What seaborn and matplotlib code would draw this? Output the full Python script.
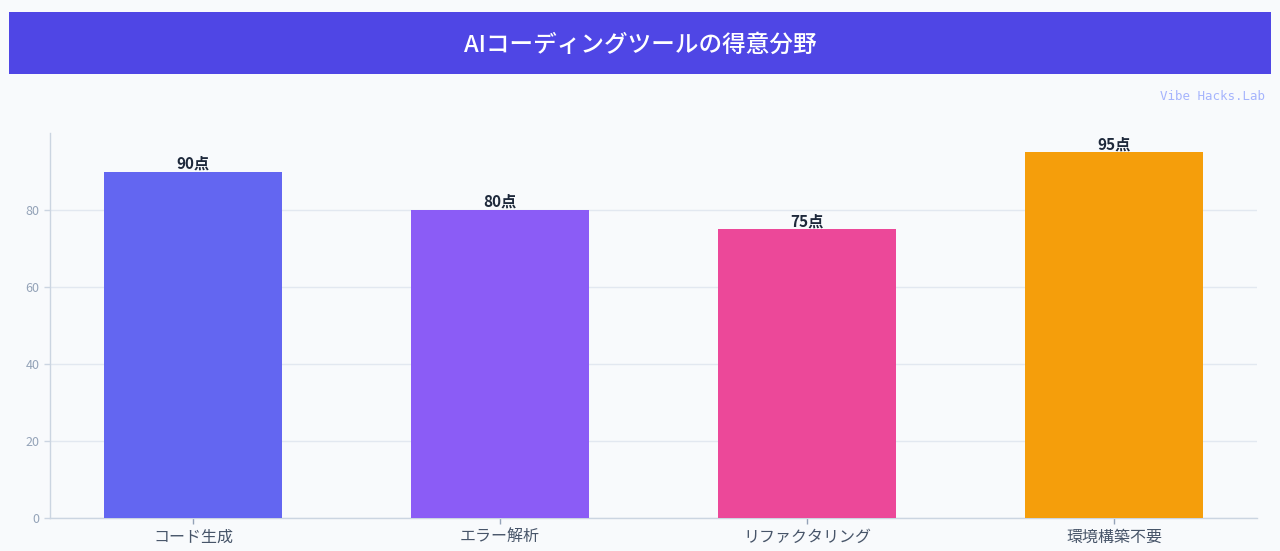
"""
AIコーディングツールの得意分野 - bar chart
"""

import matplotlib
matplotlib.use('Agg')
import matplotlib.pyplot as plt
import matplotlib.patches as patches
import pandas as pd
import seaborn as sns

# 🔧 Data
categories = ['コード生成', 'エラー解析', 'リファクタリング', '環境構築不要']
scores = [90, 80, 75, 95]
bar_colors = ['#6366f1', '#8b5cf6', '#ec4899', '#f59e0b']
y_ticks = [0, 20, 40, 60, 80]

TITLE = 'AIコーディングツールの得意分野'
WATERMARK = 'Vibe Hacks.Lab'
BG = '#f8fafc'

sns.set_theme(style='white')
plt.rcParams['font.family'] = ['Noto Sans CJK JP', 'DejaVu Sans']

df = pd.DataFrame({'category': categories, 'score': scores})

fig = plt.figure(figsize=(12.8, 5.51), dpi=100, facecolor=BG)
ax = fig.add_axes([50 / 1280, 33 / 551, 1207 / 1280, 385 / 551])
ax.set_facecolor(BG)

sns.barplot(data=df, x='category', y='score', hue='category',
            palette=bar_colors, width=0.58, legend=False, ax=ax,
            saturation=1, edgecolor='none', zorder=3)

ax.set_xlim(-0.466, 3.466)
ax.set_ylim(0, 100)
ax.set_yticks(y_ticks)
ax.yaxis.grid(True, color='#e2e8f0', linewidth=1, zorder=0)
ax.set_axisbelow(True)
ax.set_xlabel('')
ax.set_ylabel('')

for side in ['top', 'right']:
    ax.spines[side].set_visible(False)
for side in ['left', 'bottom']:
    ax.spines[side].set_color('#cbd5e1')
    ax.spines[side].set_linewidth(1)

ax.tick_params(axis='y', colors='#cbd5e1', labelcolor='#94a3b8',
               labelsize=9, length=4, width=1, left=True)
ax.tick_params(axis='x', colors='#94a3b8', labelcolor='#475569',
               labelsize=11.5, length=4, width=1, bottom=True)

# value labels
for i, v in enumerate(scores):
    ax.text(i, v, f'{v}点', ha='center', va='bottom', fontsize=11,
            fontweight='bold', color='#1e293b')

# title banner
banner = patches.Rectangle((9 / 1280, (551 - 74) / 551), 1262 / 1280, 62 / 551,
                           transform=fig.transFigure, facecolor='#4f46e5',
                           edgecolor='none', zorder=0)
fig.patches.append(banner)
fig.text(0.5, (551 - 45) / 551, TITLE, ha='center', va='center',
         fontsize=17, fontweight='medium', color='white')

# watermark
fig.text(1265 / 1280, (551 - 97) / 551, WATERMARK, ha='right', va='center',
         fontsize=9, color='#a5b4fc', family=['DejaVu Sans Mono'])

fig.savefig('out.png', dpi=100, facecolor=BG)
plt.close(fig)
